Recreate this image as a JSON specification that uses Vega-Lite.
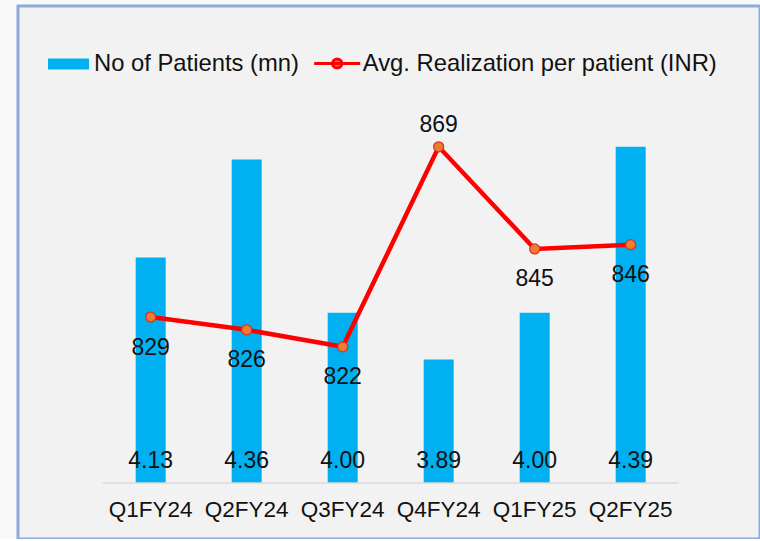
{
  "$schema": "https://vega.github.io/schema/vega-lite/v6.json",
  "width": 742,
  "height": 533,
  "autosize": {"type": "none"},
  "padding": {"left": 18, "top": 6, "right": 0, "bottom": 0},
  "background": "#f9f9f9",
  "config": {
    "view": {"fill": "#f2f2f2", "stroke": "#8eaadb", "strokeWidth": 3},
    "font": "Liberation Sans",
    "text": {"font": "Liberation Sans", "color": "#111111"}
  },
  "data": {
    "values": [
      {"q": "Q1FY24", "patients": 4.13, "real": 829},
      {"q": "Q2FY24", "patients": 4.36, "real": 826},
      {"q": "Q3FY24", "patients": 4.00, "real": 822},
      {"q": "Q4FY24", "patients": 3.89, "real": 869},
      {"q": "Q1FY25", "patients": 4.00, "real": 845},
      {"q": "Q2FY25", "patients": 4.39, "real": 846}
    ]
  },
  "encoding": {
    "x": {
      "field": "q",
      "type": "nominal",
      "sort": null,
      "scale": {"paddingInner": 0, "paddingOuter": 0.8646, "align": 0.5102},
      "axis": {
        "title": null,
        "orient": "bottom",
        "offset": -56,
        "domain": false,
        "ticks": false,
        "tickSize": 0,
        "grid": false,
        "labelAngle": 0,
        "labelPadding": 15,
        "labelFont": "Liberation Sans",
        "labelFontSize": 22.5,
        "labelColor": "#111111"
      }
    }
  },
  "layer": [
    {
      "layer": [
        {
          "mark": {"type": "bar", "width": {"band": 0.3125}},
          "encoding": {
            "y": {
              "field": "patients",
              "type": "quantitative",
              "scale": {"domain": [3.4684, 4.7209], "zero": false, "nice": false},
              "axis": null
            },
            "y2": {"datum": 3.6},
            "color": {
              "datum": "No of Patients (mn)",
              "scale": {"range": ["#00b0f0"]},
              "legend": {
                "title": null,
                "orient": "none",
                "legendX": 30,
                "legendY": 37.5,
                "padding": 0,
                "symbolType": "M-1,-0.268H1V0.268H-1Z",
                "symbolSize": 1681,
                "labelOffset": 5,
                "labelFont": "Liberation Sans",
                "labelFontSize": 23.8,
                "labelColor": "#111111",
                "labelLimit": 600,
                "encode": {"symbols": {"update": {"fill": {"value": "#00b0f0"}, "strokeWidth": {"value": 0}, "opacity": {"value": 1}}}}
              }
            }
          }
        },
        {
          "mark": {"type": "text", "baseline": "alphabetic", "align": "center", "dy": -14.5, "fontSize": 23, "color": "#111111"},
          "encoding": {
            "y": {"datum": 3.6},
            "text": {"field": "patients", "type": "quantitative", "format": ".2f"}
          }
        },
        {
          "mark": {"type": "rule", "color": "#d9d9d9", "strokeWidth": 1.5},
          "encoding": {
            "x": {"field": "q", "type": "nominal", "sort": null, "bandPosition": 0},
            "x2": {"field": "q", "bandPosition": 1},
            "y": {"datum": 3.6}
          }
        }
      ]
    },
    {
      "layer": [
        {
          "mark": {"type": "line", "strokeWidth": 4.5},
          "encoding": {
            "y": {
              "field": "real",
              "type": "quantitative",
              "scale": {"domain": [776.84, 902.09], "zero": false, "nice": false},
              "axis": null
            },
            "stroke": {
              "datum": "Avg. Realization per patient (INR)",
              "scale": {"range": ["#ff0000"]},
              "legend": {
                "title": null,
                "orient": "none",
                "legendX": 294.7,
                "legendY": 33,
                "padding": 0,
                "symbolType": "M-1,0H1M-0.2,0A0.2,0.2 0 1,1 0.2,0A0.2,0.2 0 1,1 -0.2,0Z",
                "symbolSize": 2116,
                "labelOffset": 1,
                "labelFont": "Liberation Sans",
                "labelFontSize": 23.8,
                "labelColor": "#111111",
                "labelLimit": 600,
                "encode": {"symbols": {"update": {"fill": {"value": "#ed7d31"}, "stroke": {"value": "#ff0000"}, "strokeWidth": {"value": 3}, "opacity": {"value": 1}}}}
              }
            }
          }
        },
        {
          "mark": {"type": "point", "filled": true, "fill": "#ed7d31", "stroke": "#e0301e", "strokeWidth": 1.3, "size": 100, "opacity": 1},
          "encoding": {
            "y": {"field": "real", "type": "quantitative"}
          }
        },
        {
          "transform": [{"filter": "datum.real > 860"}],
          "mark": {"type": "text", "baseline": "alphabetic", "align": "center", "dy": -14.4, "fontSize": 23, "color": "#111111"},
          "encoding": {
            "y": {"field": "real", "type": "quantitative"},
            "text": {"field": "real", "type": "quantitative"}
          }
        },
        {
          "transform": [{"filter": "datum.real <= 860"}],
          "mark": {"type": "text", "baseline": "alphabetic", "align": "center", "dy": 37.5, "fontSize": 23, "color": "#111111"},
          "encoding": {
            "y": {"field": "real", "type": "quantitative"},
            "text": {"field": "real", "type": "quantitative"}
          }
        }
      ]
    }
  ],
  "resolve": {"scale": {"y": "independent"}}
}
